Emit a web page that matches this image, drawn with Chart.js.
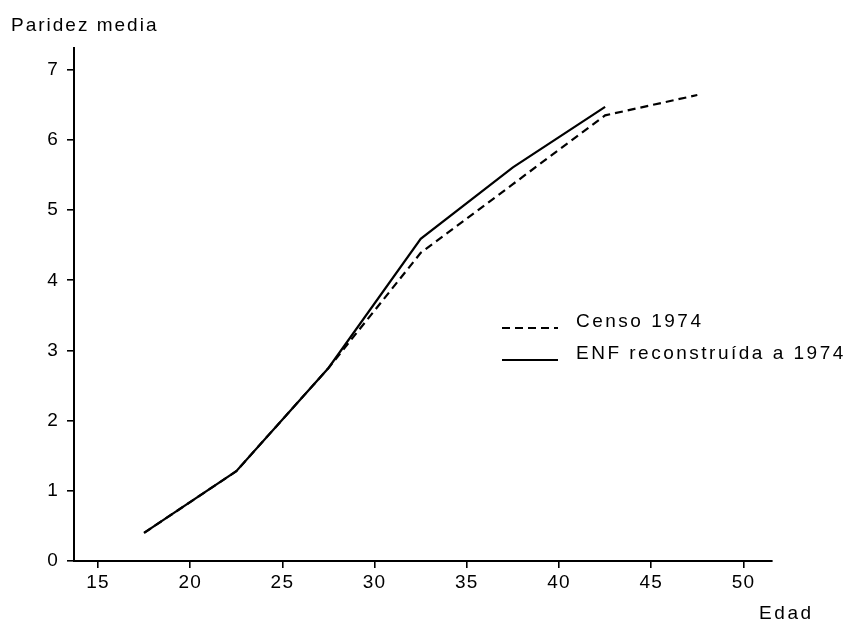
<!DOCTYPE html>
<html>
<head>
<meta charset="utf-8">
<script src="https://cdn.jsdelivr.net/npm/chart.js@4/dist/chart.umd.min.js"></script>
<style>
  html, body { margin: 0; padding: 0; background: #ffffff; }
  #wrap { width: 852px; height: 621px; position: relative; }
</style>
</head>
<body>
<div id="wrap"><canvas id="c" width="852" height="621"></canvas></div>
<script>
// ---- data ----
const ages = [17.5, 22.5, 27.5, 32.5, 37.5, 42.5, 47.5];
const censo1974 = [0.40, 1.28, 2.75, 4.39, 5.37, 6.35, 6.64];
const enfReconstruida = [0.40, 1.28, 2.75, 4.59, 5.61, 6.47, null];
const seriesNames = ['Censo 1974', 'ENF reconstruída a 1974'];
const xTicks = [15, 20, 25, 30, 35, 40, 45, 50];
const yTicks = [0, 1, 2, 3, 4, 5, 6, 7];
const yTitle = 'Paridez media';
const xTitle = 'Edad';

const FONT = '"Liberation Sans", Arial, Helvetica, sans-serif';

const textPlugin = {
  id: 'textPlugin',
  beforeDraw(chart) {
    const ctx = chart.ctx;
    ctx.fillStyle = '#fff';
    ctx.fillRect(0, 0, chart.width, chart.height);
    ctx.letterSpacing = '1.2px';
  },
  afterDraw(chart) {
    const ctx = chart.ctx;
    ctx.save();
    ctx.fillStyle = '#000';
    ctx.font = '19px ' + FONT;
    ctx.letterSpacing = '2px';
    ctx.textAlign = 'left';
    ctx.textBaseline = 'alphabetic';
    ctx.fillText(yTitle, 11, 31);
    ctx.letterSpacing = '2.6px';
    ctx.fillText(xTitle, 759, 619);
    // legend
    const items = chart.data.datasets;
    const rows = [327, 359];
    ctx.letterSpacing = '2.5px';
    items.forEach((ds, i) => {
      const y = rows[i];
      ctx.save();
      ctx.strokeStyle = '#000';
      ctx.lineWidth = 2;
      ctx.setLineDash(ds.borderDash || []);
      ctx.beginPath();
      ctx.moveTo(502, y + 1);
      ctx.lineTo(558, y + 1);
      ctx.stroke();
      ctx.restore();
      ctx.fillText(ds.label, 576, y);
    });
    ctx.restore();
  }
};

new Chart(document.getElementById('c'), {
  type: 'line',
  data: {
    datasets: [
      {
        label: seriesNames[0],
        data: ages.map((a, i) => ({ x: a, y: censo1974[i] })),
        borderColor: '#000',
        borderWidth: 2.2,
        borderDash: [8, 5],
        pointRadius: 0,
        tension: 0,
        fill: false
      },
      {
        label: seriesNames[1],
        data: ages.map((a, i) => ({ x: a, y: enfReconstruida[i] })),
        borderColor: '#000',
        borderWidth: 2.2,
        pointRadius: 0,
        tension: 0,
        fill: false,
        spanGaps: false
      }
    ]
  },
  options: {
    responsive: false,
    animation: false,
    events: [],
    layout: { padding: { top: 48, right: 80, left: 0, bottom: 0 } },
    plugins: {
      legend: { display: false },
      tooltip: { enabled: false },
      title: { display: false }
    },
    scales: {
      x: {
        type: 'linear',
        min: 13.7,
        max: 51.55,
        afterBuildTicks: (s) => { s.ticks = xTicks.map(v => ({ value: v })); },
        afterFit: (s) => { s.height = 60; },
        grid: { display: true, drawOnChartArea: false, drawTicks: true, tickLength: 7, color: '#000', lineWidth: 1.6 },
        border: { display: true, color: '#000', width: 2 },
        ticks: { color: '#000', font: { family: FONT, size: 19 }, padding: 3, maxRotation: 0, autoSkip: false }
      },
      y: {
        type: 'linear',
        min: 0,
        max: 7.31,
        afterBuildTicks: (s) => { s.ticks = yTicks.map(v => ({ value: v })); },
        afterFit: (s) => { s.width = 74; },
        grid: { display: true, drawOnChartArea: false, drawTicks: true, tickLength: 7, color: '#000', lineWidth: 1.6 },
        border: { display: true, color: '#000', width: 2 },
        ticks: { color: '#000', font: { family: FONT, size: 19 }, padding: 8, autoSkip: false }
      }
    }
  },
  plugins: [textPlugin]
});
</script>
</body>
</html>
